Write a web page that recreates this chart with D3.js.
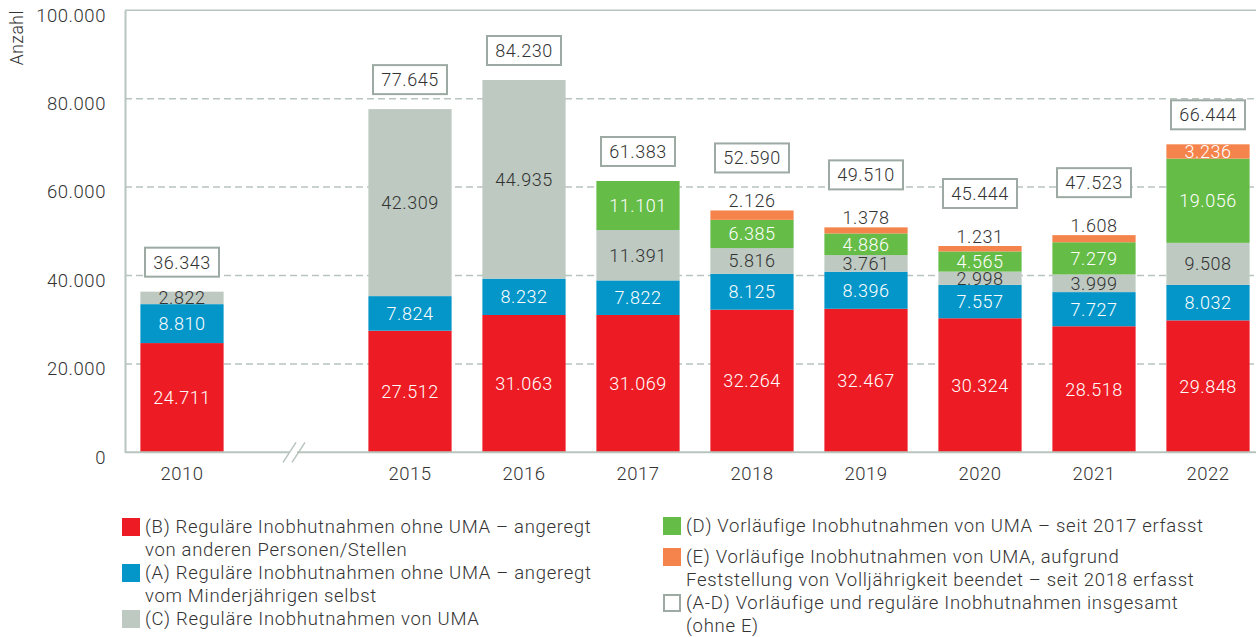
<!DOCTYPE html>
<html>
<head>
<meta charset="utf-8">
<script src="https://cdn.jsdelivr.net/npm/d3@7"></script>
<style>
  body { margin: 0; background: #fff; }
  svg { display: block; font-family: Roboto, "Liberation Sans", sans-serif; font-weight: 300; letter-spacing: 0.55px; }
</style>
</head>
<body>
<div id="chart"></div>
<script>
// Data
const years = ["2010", "2015", "2016", "2017", "2018", "2019", "2020", "2021", "2022"];
const valuesB = [24711, 27512, 31063, 31069, 32264, 32467, 30324, 28518, 29848];
const valuesA = [8810, 7824, 8232, 7822, 8125, 8396, 7557, 7727, 8032];
const valuesC = [2822, 42309, 44935, 11391, 5816, 3761, 2998, 3999, 9508];
const valuesD = [0, 0, 0, 11101, 6385, 4886, 4565, 7279, 19056];
const valuesE = [0, 0, 0, 0, 2126, 1378, 1231, 1608, 3236];
const totals = [36343, 77645, 84230, 61383, 52590, 49510, 45444, 47523, 66444];
const yTicks = [0, 20000, 40000, 60000, 80000, 100000];

const keys = ["B", "A", "C", "D", "E"];
const legendLabels = {
  B: ["(B) Reguläre Inobhutnahmen ohne UMA – angeregt", "von anderen Personen/Stellen"],
  A: ["(A) Reguläre Inobhutnahmen ohne UMA – angeregt", "vom Minderjährigen selbst"],
  C: ["(C) Reguläre Inobhutnahmen von UMA"],
  D: ["(D) Vorläufige Inobhutnahmen von UMA – seit 2017 erfasst"],
  E: ["(E) Vorläufige Inobhutnahmen von UMA, aufgrund", "Feststellung von Volljährigkeit beendet – seit 2018 erfasst"],
  T: ["(A-D) Vorläufige und reguläre Inobhutnahmen insgesamt", "(ohne E)"]
};
const colors = { B: "#ed1c24", A: "#0496c9", C: "#bdc9c1", D: "#65bc46", E: "#f5844c" };
const labelColors = { B: "#fff", A: "#fff", C: "#333", D: "#fff", E: "#fff" };

const width = 1256, height = 637;
const axisColor = "#b8c4be";
const textColor = "#333";

const de = d3.formatLocale({ decimal: ",", thousands: ".", grouping: [3], currency: ["", " €"] });
const fmt = de.format(",d");

const rows = years.map((y, i) => ({
  year: y, B: valuesB[i], A: valuesA[i], C: valuesC[i], D: valuesD[i], E: valuesE[i], total: totals[i]
}));

const svg = d3.select("#chart").append("svg")
  .attr("width", width)
  .attr("height", height)
  .attr("viewBox", [0, 0, width, height]);

// x has an empty slot between 2010 and 2015 for the axis break
const x = d3.scaleBand()
  .domain(["2010", "gap", ...years.slice(1)])
  .range([125, 1265])
  .paddingInner(0.27)
  .paddingOuter(0.135);

const y = d3.scaleLinear()
  .domain([0, 100000])
  .range([452.3, 10.3]);

// gridlines
svg.append("g")
  .selectAll("line")
  .data(yTicks.filter(d => d > 0))
  .join("line")
  .attr("x1", 125)
  .attr("x2", width)
  .attr("y1", d => y(d))
  .attr("y2", d => y(d))
  .attr("stroke", axisColor)
  .attr("stroke-width", 1.5)
  .attr("stroke-dasharray", d => d === 100000 ? null : "7,4");

// y axis
const yAxis = svg.append("g")
  .attr("transform", "translate(125,0)")
  .call(d3.axisLeft(y).tickValues(yTicks).tickSize(0).tickPadding(19).tickFormat(fmt));
yAxis.select(".domain").attr("stroke", axisColor).attr("stroke-width", 2);
yAxis.selectAll("text")
  .attr("font-size", 18.5)
  .attr("font-family", "Roboto, 'Liberation Sans', sans-serif")
  .attr("fill", textColor)
  .attr("dy", "0.58em");

svg.append("text")
  .attr("transform", "translate(23,10) rotate(-90)")
  .attr("text-anchor", "end")
  .attr("font-size", 17.5)
  .attr("fill", textColor)
  .text("Anzahl");

// stacked bars
const stack = d3.stack().keys(keys)(rows);

const layer = svg.append("g")
  .selectAll("g")
  .data(stack)
  .join("g")
  .attr("fill", d => colors[d.key]);

layer.selectAll("rect")
  .data(d => d.filter(s => s[1] > s[0]))
  .join("rect")
  .attr("x", d => x(d.data.year))
  .attr("width", x.bandwidth())
  .attr("y", d => y(d[1]))
  .attr("height", d => y(d[0]) - y(d[1]));

// segment labels
const outside = (key, d) => key === "E" && d.data.E < 3000;
stack.forEach(s => {
  svg.append("g")
    .selectAll("text")
    .data(s.filter(d => d[1] > d[0]))
    .join("text")
    .attr("x", d => x(d.data.year) + x.bandwidth() / 2)
    .attr("y", d => outside(s.key, d) ? y(d[1]) - 3 : (y(d[0]) + y(d[1])) / 2)
    .attr("dy", d => outside(s.key, d) ? "0" : "0.36em")
    .attr("text-anchor", "middle")
    .attr("font-size", 18)
    .attr("fill", d => outside(s.key, d) ? textColor : labelColors[s.key])
    .text(d => fmt(d.data[s.key]));
});

// total boxes (A-D)
const boxW = 74, boxH = 29;
const box = svg.append("g")
  .selectAll("g")
  .data(rows)
  .join("g")
  .attr("transform", d => {
    const top = y(d.total + d.E);
    const bottom = (d.E > 0 && d.E < 3000) ? top - 38 : top - 15;
    return `translate(${x(d.year) + x.bandwidth() / 2},${bottom - boxH})`;
  });

box.append("rect")
  .attr("x", -boxW / 2)
  .attr("width", boxW)
  .attr("height", boxH)
  .attr("fill", "#fff")
  .attr("stroke", "#9daaa4")
  .attr("stroke-width", 2);

box.append("text")
  .attr("y", boxH / 2)
  .attr("dy", "0.36em")
  .attr("text-anchor", "middle")
  .attr("font-size", 18)
  .attr("fill", textColor)
  .text(d => fmt(d.total));

// x axis
const xAxis = svg.append("g")
  .attr("transform", `translate(0,${y(0)})`)
  .call(d3.axisBottom(x).tickValues(years).tickSize(0).tickPadding(15));
xAxis.select(".domain").remove();
xAxis.selectAll("text")
  .attr("font-size", 18.5)
  .attr("font-family", "Roboto, 'Liberation Sans', sans-serif")
  .attr("fill", textColor);

svg.append("line")
  .attr("x1", 125).attr("x2", width)
  .attr("y1", y(0)).attr("y2", y(0))
  .attr("stroke", axisColor).attr("stroke-width", 2);

// axis break
const bx = (x("2010") + x.bandwidth() + x("2015")) / 2 - 4;
svg.append("rect")
  .attr("x", bx - 3).attr("y", y(0) - 2)
  .attr("width", 8).attr("height", 4)
  .attr("fill", "#fff");
[0, 9].forEach(off => {
  svg.append("line")
    .attr("x1", bx - 9 + off).attr("y1", y(0) + 10)
    .attr("x2", bx + 4 + off).attr("y2", y(0) - 10)
    .attr("stroke", axisColor).attr("stroke-width", 1.5);
});

// legend
const legendItems = [
  { key: "B", x: 122, y: 518 },
  { key: "A", x: 122, y: 564 },
  { key: "C", x: 122, y: 610 },
  { key: "D", x: 663, y: 517 },
  { key: "E", x: 663, y: 548 },
  { key: "T", x: 663, y: 594 }
];
const legend = svg.append("g")
  .selectAll("g")
  .data(legendItems)
  .join("g")
  .attr("transform", d => `translate(${d.x},${d.y})`);

legend.append("rect")
  .attr("x", d => d.key === "T" ? 1 : 0)
  .attr("y", d => d.key === "T" ? 1 : 0)
  .attr("width", d => d.key === "T" ? 16 : 18)
  .attr("height", d => d.key === "T" ? 16 : 18)
  .attr("fill", d => d.key === "T" ? "#fff" : colors[d.key])
  .attr("stroke", d => d.key === "T" ? "#9daaa4" : null)
  .attr("stroke-width", 2);

legend.append("text")
  .attr("font-size", 18.5)
  .attr("letter-spacing", "0.7px")
  .attr("fill", textColor)
  .selectAll("tspan")
  .data(d => legendLabels[d.key])
  .join("tspan")
  .attr("x", 23)
  .attr("y", (d, i) => 15 + i * 22.5)
  .text(d => d);
</script>
</body>
</html>
